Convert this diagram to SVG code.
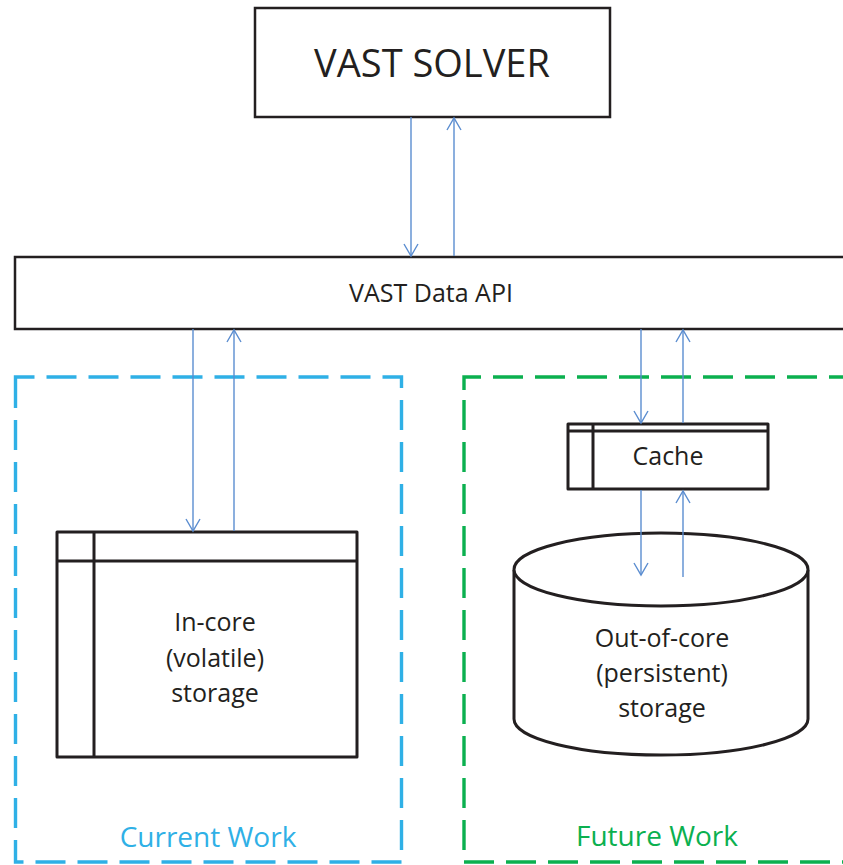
<svg xmlns="http://www.w3.org/2000/svg" width="843" height="865" viewBox="0 0 843 865">
<defs>
<style>
.box{fill:#fff;stroke:#231f20;stroke-width:3;stroke-linejoin:round}
.thin{fill:#fff;stroke:#231f20;stroke-width:2.5}
.ln{fill:none;stroke:#231f20;stroke-width:3}
.t{font-family:"Open Sans","Liberation Sans",sans-serif;fill:#231f20;text-anchor:middle}
.conn{stroke:#5b8dd0;stroke-width:1.4;fill:none;marker-end:url(#ah)}
.dash{fill:none;stroke-width:3.4;stroke-dasharray:30 12}
</style>
<marker id="ah" viewBox="-14 -9 16 18" refX="0" refY="0" markerWidth="16" markerHeight="18" markerUnits="userSpaceOnUse" orient="auto" overflow="visible">
<path d="M-12,-7 L0,0 L-12,7" fill="none" stroke="#5b8dd0" stroke-width="1.4"/>
</marker>
</defs>
<rect width="843" height="865" fill="#fff"/>

<g id="current-work">
<path class="dash" stroke="#2fb0e6" d="M15.5,388 V377 H401.5 V862 H15.5 Z"/>
<text class="t" x="208" y="847" font-size="28" style="fill:#2fb0e6">Current Work</text>
</g>
<g id="future-work">
<path class="dash" stroke="#0bb04f" d="M464,390 V377 H860 V862 H464 Z"/>
<text class="t" x="657" y="846" font-size="28" style="fill:#0bb04f">Future Work</text>
</g>

<g id="vast-solver">
<rect class="thin" x="255" y="8" width="355" height="109"/>
<text class="t" x="432" y="77" font-size="38">VAST SOLVER</text>
</g>

<g id="vast-data-api">
<rect class="thin" x="15" y="257" width="840" height="72"/>
<text class="t" x="431" y="302" font-size="25">VAST Data API</text>
</g>

<g id="in-core-storage">
<rect class="box" x="57" y="532" width="300" height="225"/>
<line class="ln" x1="57" y1="561" x2="357" y2="561"/>
<line class="ln" x1="94" y1="532" x2="94" y2="757"/>
<text class="t" font-size="25"><tspan x="215" y="631">In-core</tspan><tspan x="215" y="667">(volatile)</tspan><tspan x="215" y="702">storage</tspan></text>
</g>

<g id="cache">
<rect class="box" x="568" y="424" width="200" height="65"/>
<line class="ln" x1="568" y1="431" x2="768" y2="431"/>
<line class="ln" x1="593" y1="424" x2="593" y2="489"/>
<text class="t" x="668" y="465" font-size="25">Cache</text>
</g>

<g id="out-of-core-storage">
<path class="box" d="M514,570 L514,719 A147,36 0 0 0 808,719 L808,570"/>
<ellipse class="box" cx="661" cy="569.5" rx="147" ry="36.5"/>
<text class="t" font-size="25"><tspan x="662" y="647">Out-of-core</tspan><tspan x="662" y="682">(persistent)</tspan><tspan x="662" y="717">storage</tspan></text>
</g>

<g id="connectors">
<line class="conn" x1="411" y1="117" x2="411" y2="256"/>
<line class="conn" x1="454" y1="256" x2="454" y2="118"/>
<line class="conn" x1="193" y1="329" x2="193" y2="531"/>
<line class="conn" x1="234" y1="531" x2="234" y2="330"/>
<line class="conn" x1="641" y1="329" x2="641" y2="423"/>
<line class="conn" x1="683" y1="423" x2="683" y2="330"/>
<line class="conn" x1="641" y1="490" x2="641" y2="575"/>
<line class="conn" x1="683" y1="577" x2="683" y2="491"/>
</g>
</svg>
